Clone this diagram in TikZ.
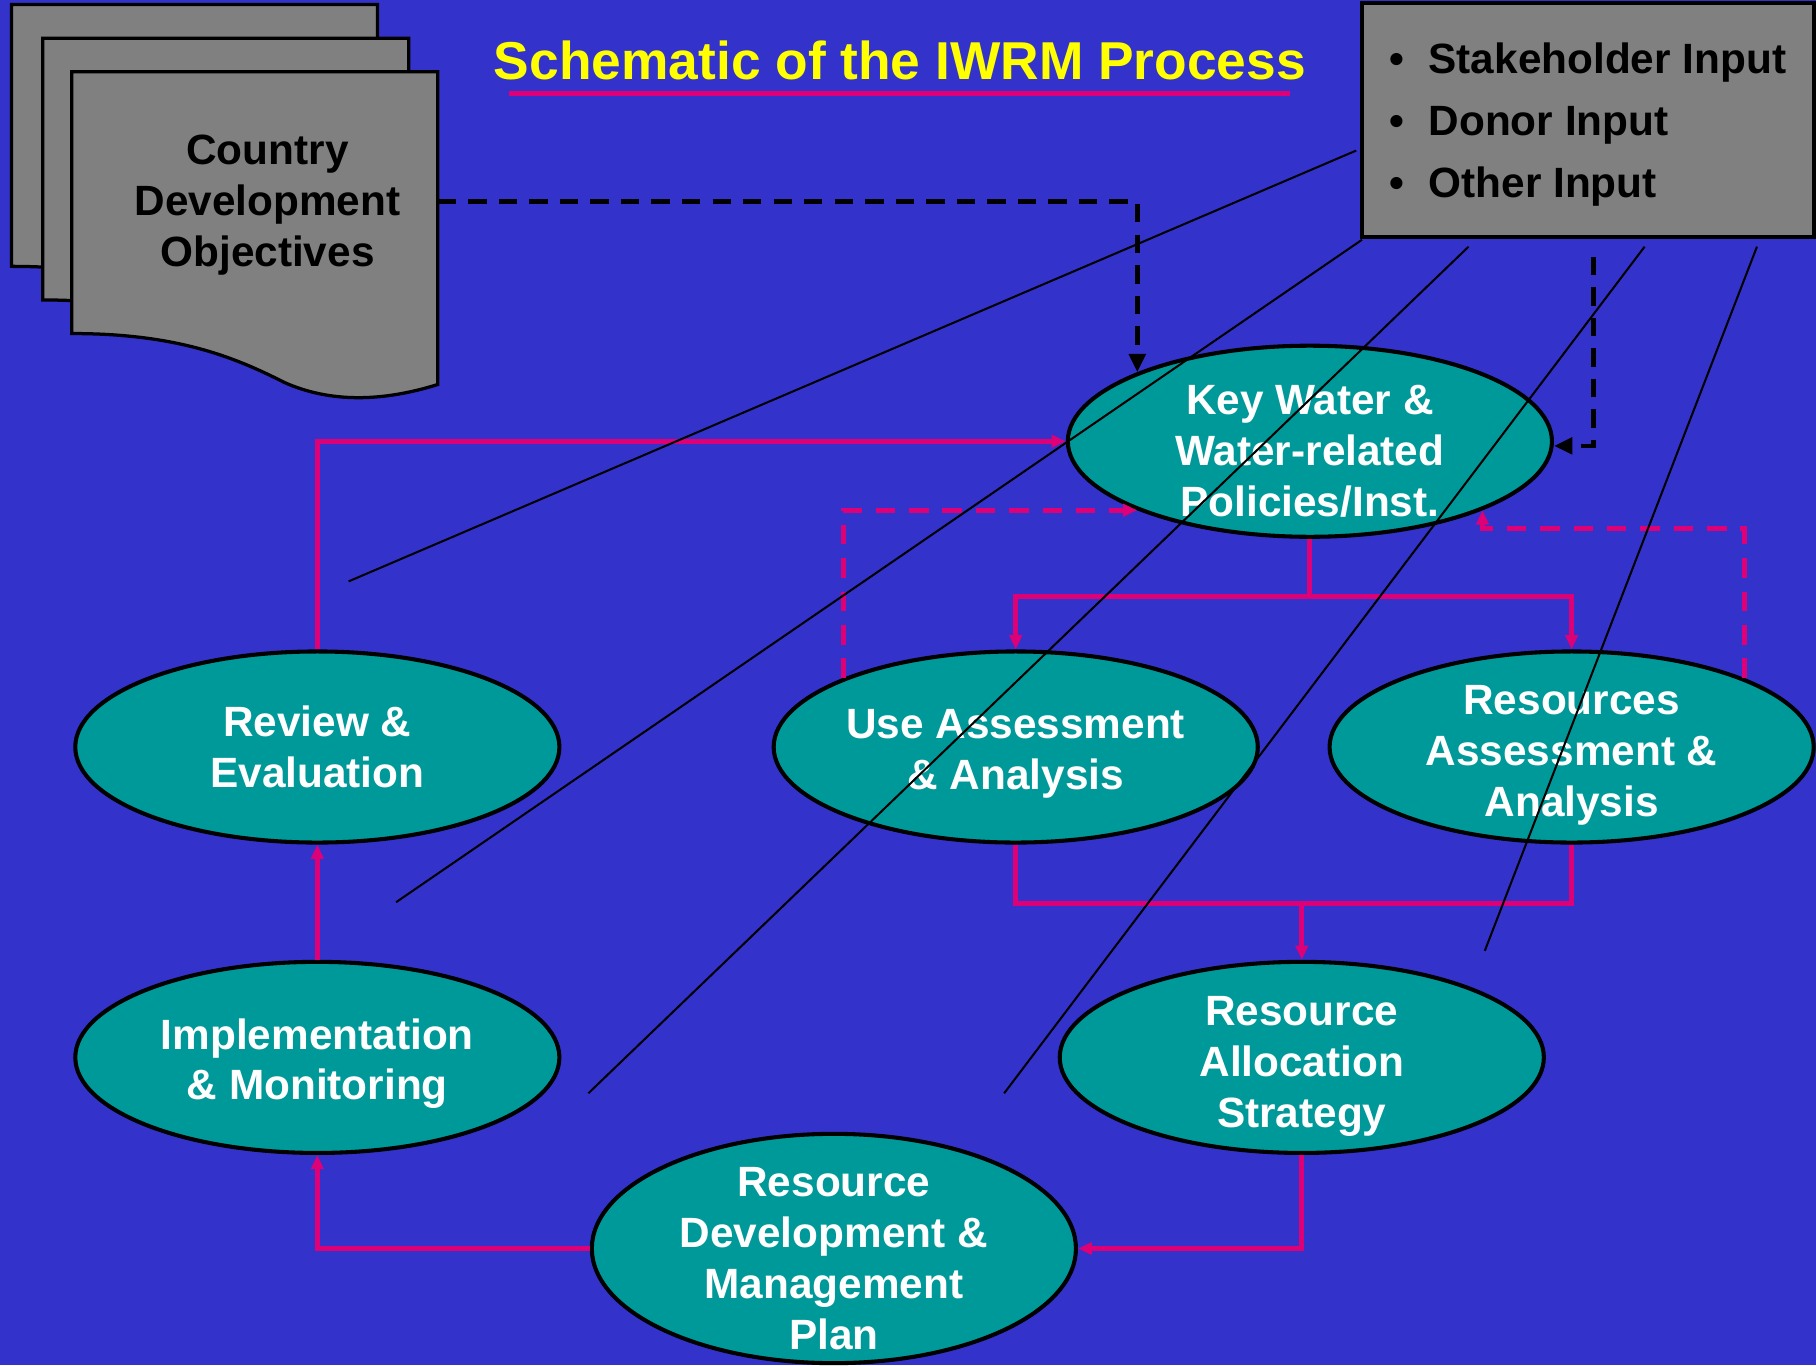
\documentclass[tikz,border=0pt]{standalone}
\usepackage{fontspec}
\setmainfont{Liberation Sans}
\usetikzlibrary{shapes.geometric,arrows.meta,calc}

\definecolor{slideblue}{RGB}{51,51,204}
\definecolor{stagegreen}{RGB}{0,153,153}
\definecolor{flowpink}{RGB}{221,0,119}
\definecolor{docgray}{RGB}{128,128,128}
\definecolor{titleyellow}{RGB}{255,255,0}

\begin{document}
\begin{tikzpicture}[
    >={Triangle[length=3.5pt, width=3pt]},
    stage/.style={ellipse, draw=black, line width=1pt, fill=stagegreen, minimum width=4.18cm, minimum height=1.65cm, inner xsep=0pt, inner ysep=-6pt, align=center, text=white, font=\bfseries\fontsize{10.4}{12.5}\selectfont},
    flow/.style={draw=flowpink, line width=1.2pt},
    backflow/.style={flow, dash pattern=on 4.8pt off 3.4pt},
    feed/.style={draw=black, line width=1.1pt, dash pattern=on 4.5pt off 3pt, >={Triangle[length=4.5pt, width=4pt]}},
    stray/.style={draw=black, line width=0.5pt}
]
    \fill[slideblue] (0, 0) rectangle (15.68, -11.79);
    \useasboundingbox (0, 0) rectangle (15.68, -11.79);

    % stacked documents
    \foreach \dx/\dy in {-0.52/0.58, -0.25/0.29, 0/0}
        \filldraw[fill=docgray, draw=black, line width=0.8pt, shift={(\dx, \dy)}] (0.62, -0.62) -- (3.78, -0.62) -- (3.78, -3.32) .. controls (3.3, -3.47) and (2.85, -3.48) .. (2.45, -3.3) .. controls (2.0, -3.07) and (1.5, -2.88) .. (0.62, -2.88) -- cycle;
    \node[align=center, font=\bfseries\fontsize{10.4}{12.5}\selectfont] (cdo) at (2.31, -1.77) {Country\\Development\\Objectives};
    \coordinate (cdo-e) at (3.78, -1.74);

    % title
    \node[text=titleyellow, inner sep=0pt, font=\bfseries\fontsize{13.1}{16}\selectfont] (title) at (7.77, -0.525) {Schematic of the IWRM Process};
    \draw[flowpink, line width=1.3pt] ([xshift=0.14cm, yshift=-0.12cm]title.base west) -- ([xshift=-0.14cm, yshift=-0.12cm]title.base east);

    % inputs box
    \node[draw=black, line width=1pt, fill=docgray, minimum width=3.9cm, minimum height=2.02cm, align=left, font=\bfseries\fontsize{10.4}{15.2}\selectfont] (inputs) at (13.71, -1.04) {\rule{0pt}{9.5pt}\textbullet\hspace{0.21cm}Stakeholder Input\\\textbullet\hspace{0.21cm}Donor Input\\\textbullet\hspace{0.21cm}Other Input};

    % process stages
    \node[stage] (kw) at (11.31, -3.81) {\rule{0pt}{12.2pt}Key Water \&\\Water-related\\Policies/Inst.};
    \node[stage] (rev) at (2.74, -6.45) {Review \&\\Evaluation};
    \node[stage] (ua) at (8.77, -6.45) {\rule{0pt}{10.4pt}Use Assessment\\\& Analysis};
    \node[stage] (ra) at (13.57, -6.45) {\rule{0pt}{11.4pt}Resources\\Assessment \&\\Analysis};
    \node[stage] (impl) at (2.74, -9.13) {\rule{0pt}{10.6pt}Implementation\\\& Monitoring};
    \node[stage] (alloc) at (11.24, -9.13) {\rule{0pt}{11.4pt}Resource\\Allocation\\Strategy};
    \node[stage, minimum height=1.98cm] (dev) at (7.20, -10.78) {\rule{0pt}{12.2pt}Resource\\Development \&\\Management\\Plan};

    % main cycle
    \draw[flow, ->] (rev.north) |- (kw.west);
    \draw[flow, ->] (kw.south) -- ++(0, -0.5) -| (ua.north);
    \draw[flow, ->] (kw.south) -- ++(0, -0.5) -| (ra.north);
    \coordinate (merge) at ($(alloc.north |- ua.south) + (0, -0.51)$);
    \draw[flow] (ua.south) |- (merge) -| (ra.south);
    \draw[flow, ->] (merge) -- (alloc.north);
    \draw[flow, ->] (alloc.south) |- (dev.east);
    \draw[flow, ->] (dev.west) -| (impl.south);
    \draw[flow, ->] (impl.north) -- (rev.south);

    % feedback and inputs
    \draw[backflow, ->] (ua.north west) |- (kw.south west);
    \draw[backflow, ->] (ra.north east) |- ([yshift=-0.16cm]kw.south east) -- (kw.south east);
    \draw[feed, ->] (cdo-e) -| (kw.north west);
    \draw[feed, ->] ([xshift=0.05cm, yshift=-0.15cm]inputs.south) |- ([yshift=-0.04cm]kw.east);

    % stray lines
    \coordinate (s1) at (11.71, -1.30); \coordinate (t1) at (3.01, -5.02);
    \coordinate (s2) at (11.76, -2.07); \coordinate (t2) at (3.42, -7.79);
    \coordinate (s3) at (12.68, -2.13); \coordinate (t3) at (5.08, -9.44);
    \coordinate (s4) at (14.20, -2.13); \coordinate (t4) at (8.67, -9.44);
    \coordinate (s5) at (15.17, -2.13); \coordinate (t5) at (12.82, -8.21);
    \foreach \i in {1,...,5}
        \draw[stray] (s\i) -- (t\i);
\end{tikzpicture}
\end{document}
